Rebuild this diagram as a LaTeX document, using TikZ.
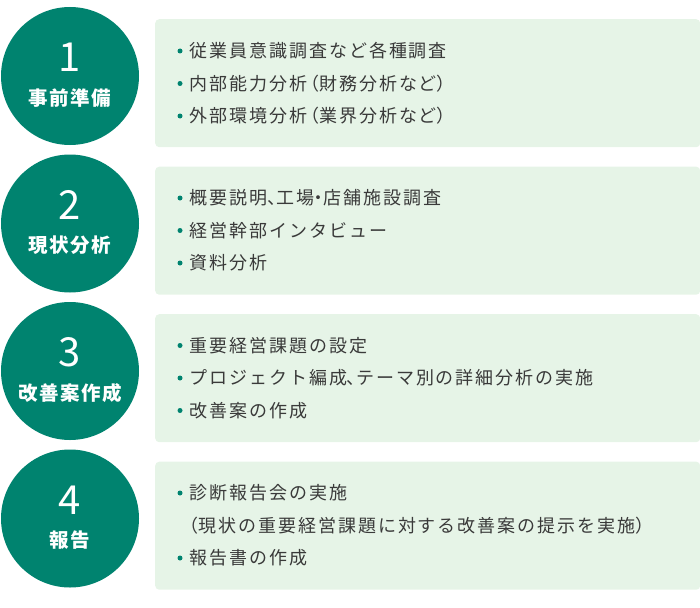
\documentclass[tikz,border=0pt]{standalone}
\usepackage{fontspec}
\newfontfamily\jp[LetterSpace=11]{Noto Sans CJK JP}
\newfontfamily\jpp[LetterSpace=11,RawFeature=+palt]{Noto Sans CJK JP}
\newfontfamily\jpl[LetterSpace=8]{Noto Sans CJK JP}
\newfontfamily\jpnum{Noto Sans CJK JP}
\newcommand{\nrw}[1]{{\jpp #1}}
\newcommand{\opn}{\kern3pt{\jpp （}}
\definecolor{teal1}{HTML}{00836F}
\definecolor{boxfill}{HTML}{E6F4E7}
\definecolor{txt}{HTML}{3A3A3A}
\tikzset{
  stepcircle/.style={circle, fill=teal1, minimum size=138pt, inner sep=0pt},
  stepbox/.style={rectangle, fill=boxfill, rounded corners=4pt, minimum width=545pt, minimum height=128pt, inner sep=0pt, anchor=north west},
  num/.style={anchor=base, text=white, inner sep=0pt, font=\jpnum\fontsize{40}{40}\selectfont},
  lbl/.style={anchor=base, text=white, inner sep=0pt, font=\jpl\bfseries\fontsize{19.5}{20}\selectfont},
  item/.style={anchor=base west, text=txt, inner sep=0pt, font=\jp\fontsize{18}{18}\selectfont},
  dot/.style={circle, fill=teal1, minimum size=5pt, inner sep=0pt},
}
\begin{document}
\begin{tikzpicture}[x=1pt,y=-1pt]
\useasboundingbox (0,0) rectangle (700,607);
% boxes
\node[stepbox] (b1) at (155,19) {};
\node[stepbox] (b2) at (155,166.5) {};
\node[stepbox] (b3) at (155,314) {};
\node[stepbox] (b4) at (155,461.5) {};
% circles
\node[stepcircle] (c1) at (70,76) {};
\node[stepcircle] (c2) at (70,223.5) {};
\node[stepcircle] (c3) at (70,371) {};
\node[stepcircle] (c4) at (70,518.5) {};
% numbers and labels
\node[num] (n1) at (70,71.5) {1};
\node[lbl] (l1) at (70,105) {事前準備};
\node[num] (n2) at (70,219) {2};
\node[lbl] (l2) at (70,252.5) {現状分析};
\node[num] (n3) at (70,366.5) {3};
\node[lbl] (l3) at (70,400) {改善案作成};
\node[num] (n4) at (70,514) {4};
\node[lbl] (l4) at (70,547.5) {報告};
% box 1
\node[dot] (d11) at (180,51) {};
\node[dot] (d12) at (180,83.5) {};
\node[dot] (d13) at (180,116) {};
\node[item] (t11) at (189,57.8) {従業員意識調査など各種調査};
\node[item] (t12) at (189,90.3) {内部能力分析\opn 財務分析など\nrw{）}};
\node[item] (t13) at (189,122.8) {外部環境分析\opn 業界分析など\nrw{）}};
% box 2
\node[dot] (d21) at (180,198) {};
\node[dot] (d22) at (180,230.5) {};
\node[dot] (d23) at (180,263) {};
\node[item] (t21) at (189,204.8) {概要説明\nrw{、}工場\nrw{・}店舗施設調査};
\node[item] (t22) at (189,237.3) {経営幹部インタビュー};
\node[item] (t23) at (189,269.8) {資料分析};
% box 3
\node[dot] (d31) at (180,345.5) {};
\node[dot] (d32) at (180,378) {};
\node[dot] (d33) at (180,410.5) {};
\node[item] (t31) at (189,352.3) {重要経営課題の設定};
\node[item] (t32) at (189,384.8) {プロジェクト編成\nrw{、}テーマ別の詳細分析の実施};
\node[item] (t33) at (189,417.3) {改善案の作成};
% box 4
\node[dot] (d41) at (180,493) {};
\node[dot] (d43) at (180,558) {};
\node[item] (t41) at (189,499.8) {診断報告会の実施};
\node[item] (t42) at (189,532.3) {\nrw{（}現状の重要経営課題に対する改善案の提示を実施\nrw{）}};
\node[item] (t43) at (189,564.8) {報告書の作成};
\end{tikzpicture}
\end{document}
